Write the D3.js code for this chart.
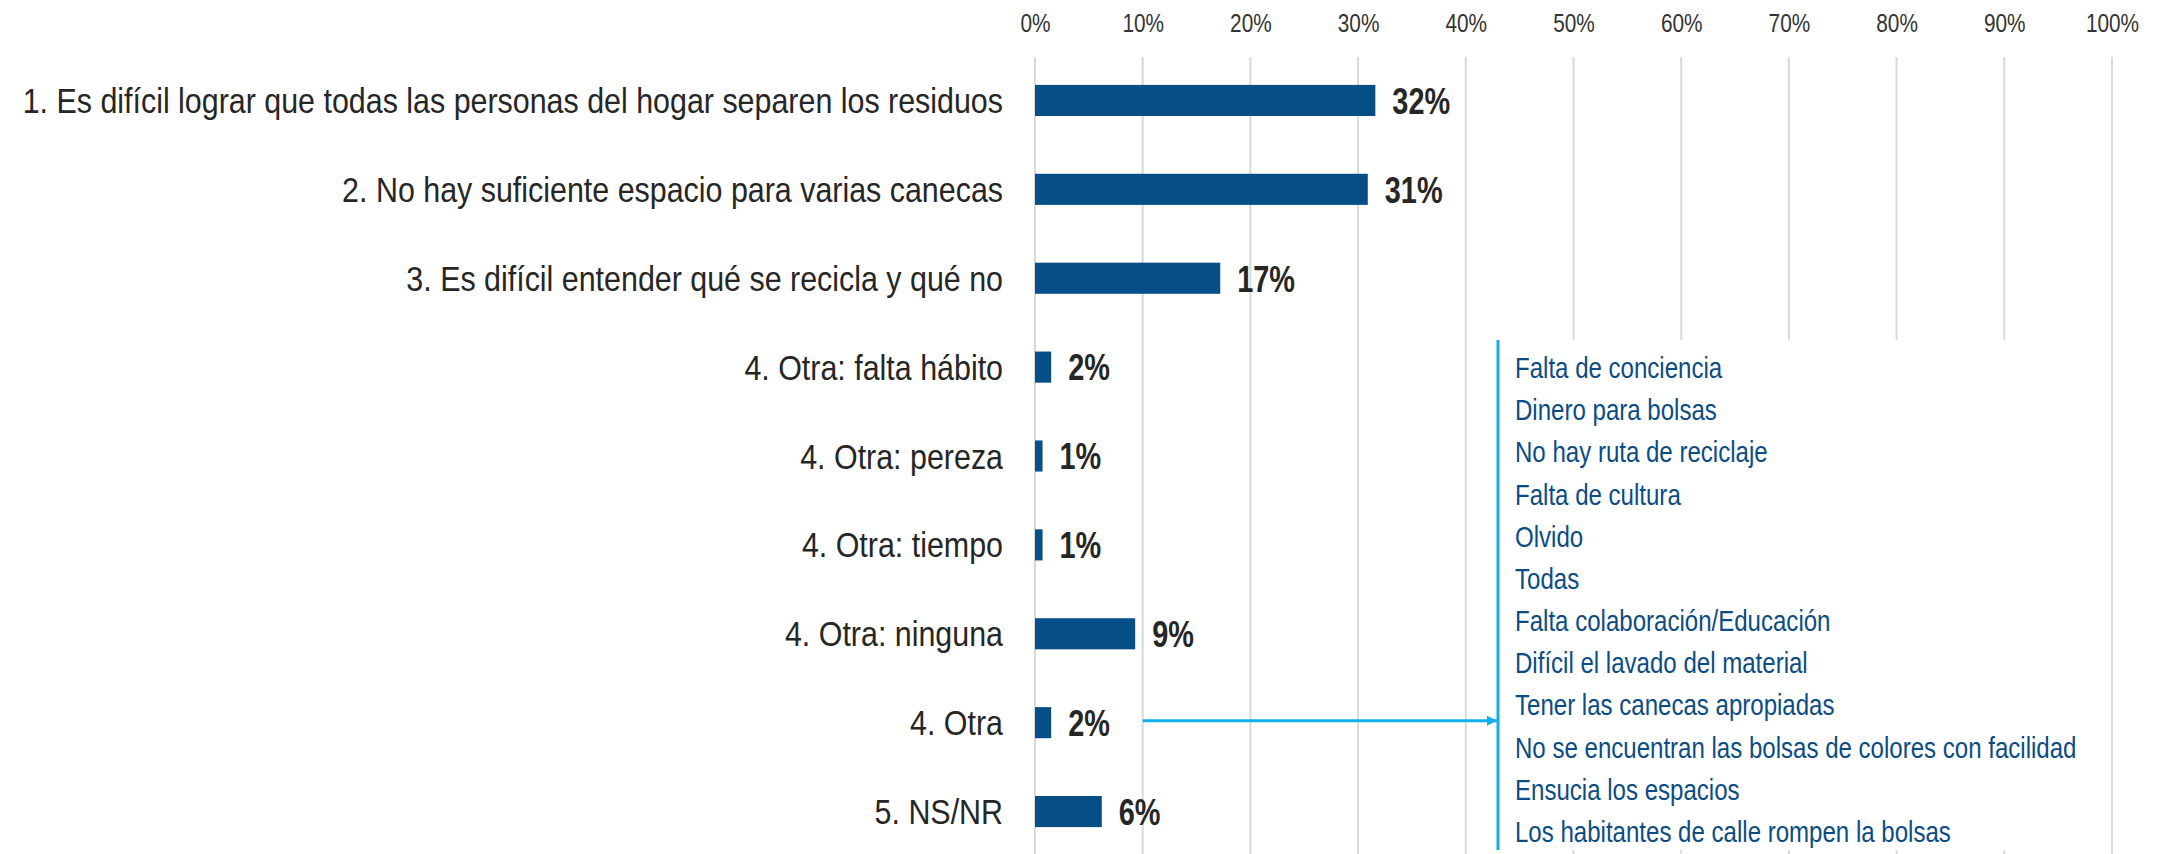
<!DOCTYPE html>
<html>
<head>
<meta charset="utf-8">
<script src="https://cdn.jsdelivr.net/npm/d3@7"></script>
<style>
  body { margin: 0; background: #fff; }
  svg { display: block; font-family: "Liberation Sans", Arial, sans-serif; }
</style>
</head>
<body>
<div id="chart"></div>
<script>
// categories and values
var categories = [
  "1. Es difícil lograr que todas las personas del hogar separen los residuos",
  "2. No hay suficiente espacio para varias canecas",
  "3. Es difícil entender qué se recicla y qué no",
  "4. Otra: falta hábito",
  "4. Otra: pereza",
  "4. Otra: tiempo",
  "4. Otra: ninguna",
  "4. Otra",
  "5. NS/NR"
];
var values = [0.316, 0.309, 0.172, 0.015, 0.007, 0.007, 0.093, 0.015, 0.062];
var valueLabels = ["32%", "31%", "17%", "2%", "1%", "1%", "9%", "2%", "6%"];
var tickValues = [0, 0.1, 0.2, 0.3, 0.4, 0.5, 0.6, 0.7, 0.8, 0.9, 1];
var otraNotes = [
  "Falta de conciencia",
  "Dinero para bolsas",
  "No hay ruta de reciclaje",
  "Falta de cultura",
  "Olvido",
  "Todas",
  "Falta colaboración/Educación",
  "Difícil el lavado del material",
  "Tener las canecas apropiadas",
  "No se encuentran las bolsas de colores con facilidad",
  "Ensucia los espacios",
  "Los habitantes de calle rompen la bolsas"
];

var W = 2162, H = 854;
var barColor = "#064e86", gridColor = "#d9d9d9", noteBlue = "#0b4c84", arrowBlue = "#12aef0";
var textColor = "#262626";

var svg = d3.select("#chart").append("svg")
    .attr("width", W).attr("height", H);

var x = d3.scaleLinear().domain([0, 1]).range([1035, 2112]);
var y = d3.scaleBand().domain(categories).range([56, 856])
    .paddingInner(0.65).paddingOuter(0.325);

// gridlines
svg.append("g").selectAll("line").data(tickValues).enter().append("line")
    .attr("x1", function(d) { return x(d); })
    .attr("x2", function(d) { return x(d); })
    .attr("y1", 57).attr("y2", H)
    .attr("stroke", gridColor).attr("stroke-width", 2);

// top axis labels (no narrow font installed, so squeeze sideways)
var xAxis = svg.append("g").attr("transform", "translate(0,32)")
    .call(d3.axisTop(x).tickValues(tickValues).tickSize(0).tickPadding(0)
      .tickFormat(d3.format(".0%")));
xAxis.select(".domain").remove();
xAxis.selectAll("text")
    .attr("font-family", "Liberation Sans, Arial, sans-serif")
    .attr("font-size", 26).attr("fill", "#333")
    .attr("transform", "scale(0.8,1)");

// category labels
svg.append("g").selectAll("g").data(categories).enter().append("g")
    .attr("transform", function(d) {
      return "translate(1003," + (y(d) + y.bandwidth() / 2) + ") scale(0.845,1)";
    })
  .append("text")
    .attr("dy", "0.35em")
    .attr("text-anchor", "end")
    .attr("font-size", 36).attr("fill", textColor)
    .text(function(d) { return d; });

// bars
svg.append("g").selectAll("rect").data(values).enter().append("rect")
    .attr("x", x(0))
    .attr("y", function(d, i) { return y(categories[i]); })
    .attr("width", function(d) { return x(d) - x(0); })
    .attr("height", y.bandwidth())
    .attr("fill", barColor);

// value labels
svg.append("g").selectAll("g").data(values).enter().append("g")
    .attr("transform", function(d, i) {
      return "translate(" + (x(d) + 17) + "," + (y(categories[i]) + y.bandwidth() / 2) + ") scale(0.78,1)";
    })
  .append("text")
    .attr("dy", "0.36em")
    .attr("font-size", 37).attr("font-weight", "bold").attr("fill", textColor)
    .text(function(d, i) { return valueLabels[i]; });

// the box with "Otra" answers, covering the gridlines behind it
var boxTop = 340, boxBottom = 850, boxLeft = 1498;
svg.append("rect")
    .attr("x", boxLeft).attr("y", boxTop)
    .attr("width", x(1) - boxLeft - 2).attr("height", boxBottom - boxTop)
    .attr("fill", "#fff");
svg.append("line")
    .attr("x1", boxLeft).attr("x2", boxLeft)
    .attr("y1", boxTop).attr("y2", boxBottom)
    .attr("stroke", arrowBlue).attr("stroke-width", 3);

var noteY = d3.scalePoint().domain(otraNotes).range([378, 842]);
svg.append("g").selectAll("g").data(otraNotes).enter().append("g")
    .attr("transform", function(d) {
      return "translate(1515," + noteY(d) + ") scale(0.83,1)";
    })
  .append("text")
    .attr("font-size", 29).attr("fill", noteBlue)
    .text(function(d) { return d; });

// arrow from "4. Otra" to the box
svg.append("defs").append("marker")
    .attr("id", "arrowhead").attr("viewBox", "0 0 10 10")
    .attr("refX", 10).attr("refY", 5)
    .attr("markerWidth", 3.5).attr("markerHeight", 5)
    .attr("markerUnits", "strokeWidth").attr("orient", "auto")
    .append("path").attr("d", "M0,0L10,5L0,10Z").attr("fill", arrowBlue);

var otraY = y("4. Otra") + y.bandwidth() / 2 - 2;
svg.append("line")
    .attr("x1", x(0.1)).attr("x2", boxLeft - 1)
    .attr("y1", otraY).attr("y2", otraY)
    .attr("stroke", arrowBlue).attr("stroke-width", 3)
    .attr("marker-end", "url(#arrowhead)");
</script>
</body>
</html>
